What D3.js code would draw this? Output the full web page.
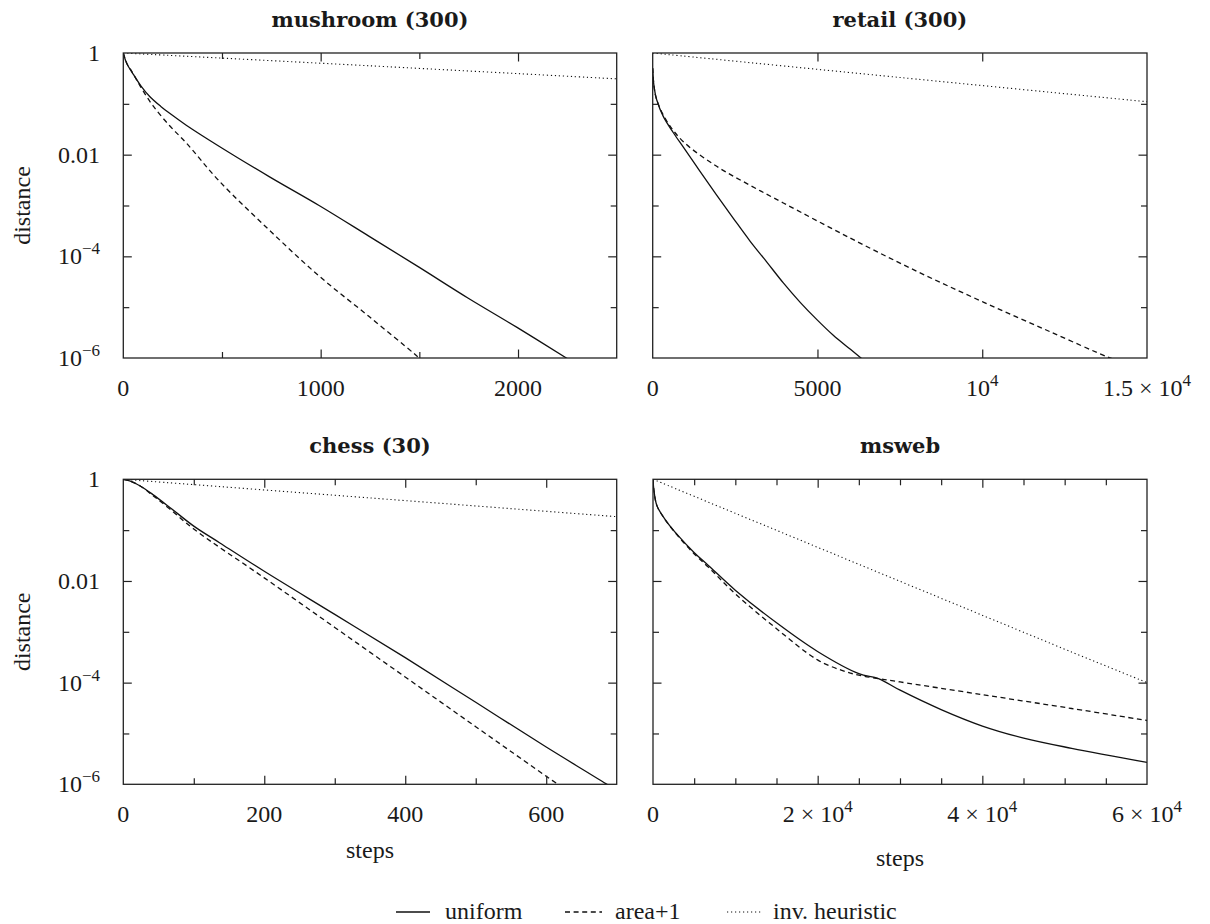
<!DOCTYPE html>
<html>
<head>
<meta charset="utf-8">
<script src="https://cdn.jsdelivr.net/npm/d3@7/dist/d3.min.js"></script>
<style>
  body { margin: 0; background: #fff; }
  svg text { font-family: "Liberation Serif", "Times New Roman", serif; fill: #1a1a1a; }
  .title { font-family: "DejaVu Serif", serif; font-weight: bold; font-size: 21px; }
  .tick-lbl, .axis-lbl, .legend-lbl { font-size: 24px; }
  .frame { fill: none; stroke: #222; stroke-width: 1.3; }
  .ticks line { stroke: #222; stroke-width: 1.2; }
  .ticks path { display: none; }
  .series { fill: none; stroke: #111; }
</style>
</head>
<body>
<svg id="chart" width="1210" height="924"></svg>
<script>
// series: [steps, distance]
const seriesNames = ['uniform', 'area+1', 'inv. heuristic'];

const mushroomUniform = [[0,1],[17,0.63],[51,0.38],[90,0.224],[135,0.138],[190,0.089],[235,0.065],[319,0.038],[487,0.0145],
  [739,0.0037],[992,0.0010],[1244,2.5e-4],[1496,6.2e-5],[1748,1.5e-5],[1995,4.0e-6],[2245,1e-6],[2320,6.7e-7]];
const mushroomArea = [[0,1],[20,0.6],[42,0.44],[67,0.30],[100,0.18],[151,0.091],[235,0.037],[319,0.017],[487,0.0030],
  [739,3.3e-4],[992,4.1e-5],[1244,6.6e-6],[1479,1.17e-6],[1560,6.2e-7]];
const mushroomInv = [[0,1],[1250,0.56],[2500,0.31]];

const retailUniform = [[0,0.5],[40,0.22],[121,0.12],[324,0.056],[627,0.027],[930,0.014],[1436,0.0047],[1941,0.0016],
  [2447,5.6e-4],[2953,2.0e-4],[3458,7.8e-5],[3964,3.0e-5],[4469,1.26e-5],[4975,5.75e-6],[5480,2.8e-6],
  [6000,1.48e-6],[6320,1e-6],[6500,8e-7]];
const retailArea = [[0,0.5],[40,0.22],[121,0.12],[425,0.046],[930,0.018],[1941,0.0059],[2953,0.0025],[3964,0.00112],
  [5987,2.3e-4],[8009,5.1e-5],[10032,1.26e-5],[12054,3.3e-6],[13773,1.07e-6],[14200,8.5e-7]];
const retailInv = [[0,1],[7500,0.33],[15000,0.11]];

const chessUniform = [[0,1],[9,0.93],[24,0.74],[42,0.50],[66,0.28],[100,0.12],[137,0.056],[200,0.0155],
  [300,0.0022],[400,3.1e-4],[500,4.1e-5],[600,5.4e-6],[685,1.02e-6],[720,4.9e-7]];
const chessArea = [[0,1],[9,0.93],[24,0.74],[42,0.48],[66,0.26],[100,0.105],[200,0.0115],[300,0.00122],
  [400,1.29e-4],[500,1.36e-5],[600,1.44e-6],[614,1.06e-6],[640,6e-7]];
const chessInv = [[0,1],[350,0.43],[700,0.184]];

const mswebUniform = [[0,1],[121,0.59],[485,0.30],[1497,0.16],[3115,0.076],[5016,0.036],[6756,0.020],[9992,0.0066],
  [15008,0.0015],[19984,4.1e-4],[25000,1.5e-4],[27387,1.2e-4],[30016,7.1e-5],[34992,2.95e-5],[40008,1.4e-5],
  [45024,8.1e-6],[50850,5.1e-6],[60000,2.7e-6]];
const mswebArea = [[0,1],[121,0.59],[485,0.30],[1497,0.16],[3115,0.074],[5016,0.034],[6756,0.0185],[9992,0.0056],
  [15008,0.00115],[19984,2.8e-4],[22937,1.74e-4],[25000,1.4e-4],[27387,1.2e-4],[30016,1.03e-4],[40008,5.8e-5],
  [50850,3.1e-5],[60000,1.8e-5]];
const mswebInv = [[0,1],[50850,4.0e-4],[60000,1.0e-4]];

// tick values and labels ([base, superscript])
const yMajor = [1, 0.01, 1e-4, 1e-6];
const yMinor = [0.1, 1e-3, 1e-5];
const yLabels = [['1',''],['0.01',''],['10','\u22124'],['10','\u22126']];

const mushroomTicks = [0, 1000, 2000], mushroomMinor = [500, 1500];
const mushroomLabels = [['0',''],['1000',''],['2000','']];
const retailTicks = [0, 5000, 10000, 15000], retailMinor = [];
const retailLabels = [['0',''],['5000',''],['10','4'],['1.5 \u00d7 10','4']];
const chessTicks = [0, 200, 400, 600], chessMinor = [100, 300, 500];
const chessLabels = [['0',''],['200',''],['400',''],['600','']];
const mswebTicks = [0, 20000, 40000, 60000];
const mswebMinor = [5000, 10000, 15000, 25000, 30000, 35000, 45000, 50000, 55000];
const mswebLabels = [['0',''],['2 \u00d7 10','4'],['4 \u00d7 10','4'],['6 \u00d7 10','4']];

const panels = [
  { title: 'mushroom (300)', xMax: 2500, ticks: mushroomTicks, minor: mushroomMinor, labels: mushroomLabels,
    series: [mushroomUniform, mushroomArea, mushroomInv], left: 123.3, right: 616.7, top: 53, yLabel: true, xLabelY: null },
  { title: 'retail (300)', xMax: 15000, ticks: retailTicks, minor: retailMinor, labels: retailLabels,
    series: [retailUniform, retailArea, retailInv], left: 652.7, right: 1147, top: 53, yLabel: false, xLabelY: null },
  { title: 'chess (30)', xMax: 700, ticks: chessTicks, minor: chessMinor, labels: chessLabels,
    series: [chessUniform, chessArea, chessInv], left: 123.3, right: 616.7, top: 479.3, yLabel: true, xLabelY: 858 },
  { title: 'msweb', xMax: 60000, ticks: mswebTicks, minor: mswebMinor, labels: mswebLabels,
    series: [mswebUniform, mswebArea, mswebInv], left: 653, right: 1147, top: 479.3, yLabel: false, xLabelY: 866 }
];

const plotH = 305;
const majorLen = 8.5, minorLen = 6;
const dashes = [null, '5,3.6', '1.2,2.8'];
const widths = [1.3, 1.3, 1.1];

const svg = d3.select('#chart');

function addLabel(sel, parts, supDy) {
  sel.append('tspan').text(parts[0]);
  if (parts[1]) {
    sel.append('tspan').attr('dy', supDy).style('font-size', '17px').text(parts[1]);
  }
}

panels.forEach((p, pi) => {
  const x = d3.scaleLinear().domain([0, p.xMax]).range([p.left, p.right]);
  const y = d3.scaleLog().domain([1e-6, 1]).range([p.top + plotH, p.top]);
  const g = svg.append('g');

  const clipId = `clip-${pi}`;
  g.append('clipPath').attr('id', clipId)
    .append('rect').attr('x', p.left).attr('y', p.top)
    .attr('width', p.right - p.left).attr('height', plotH);

  // curves
  const line = d3.line().x(d => x(d[0])).y(d => y(d[1])).curve(d3.curveCatmullRom.alpha(0.5));
  p.series.forEach((s, si) => {
    g.append('path').attr('class', 'series')
      .attr('clip-path', `url(#${clipId})`)
      .attr('d', line(s))
      .attr('stroke-width', widths[si])
      .attr('stroke-dasharray', dashes[si]);
  });

  // ticks, inward on all four sides
  const xMaj = p.ticks.filter(v => v > 0 && v < p.xMax);
  const tickSets = [
    [d3.axisBottom(x), xMaj, majorLen, `translate(0,${p.top + plotH})`],
    [d3.axisBottom(x), p.minor, minorLen, `translate(0,${p.top + plotH})`],
    [d3.axisTop(x), xMaj, majorLen, `translate(0,${p.top})`],
    [d3.axisTop(x), p.minor, minorLen, `translate(0,${p.top})`],
    [d3.axisLeft(y), yMajor.slice(1, 3), majorLen, `translate(${p.left},0)`],
    [d3.axisLeft(y), yMinor, minorLen, `translate(${p.left},0)`],
    [d3.axisRight(y), yMajor.slice(1, 3), majorLen, `translate(${p.right},0)`],
    [d3.axisRight(y), yMinor, minorLen, `translate(${p.right},0)`]
  ];
  tickSets.forEach(([axis, vals, len, tr]) => {
    g.append('g').attr('class', 'ticks').attr('transform', tr)
      .call(axis.tickValues(vals).tickSize(-len).tickFormat(''));
  });

  g.append('rect').attr('class', 'frame')
    .attr('x', p.left).attr('y', p.top)
    .attr('width', p.right - p.left).attr('height', plotH);

  // x tick labels
  p.ticks.forEach((v, i) => {
    const t = g.append('text').attr('class', 'tick-lbl')
      .attr('x', x(v)).attr('y', p.top + plotH + 38)
      .attr('text-anchor', 'middle');
    addLabel(t, p.labels[i], -10);
  });

  // y tick labels
  if (p.yLabel) {
    yMajor.forEach((v, i) => {
      const t = g.append('text').attr('class', 'tick-lbl')
        .attr('x', 100).attr('y', y(v) + 8)
        .attr('text-anchor', 'end');
      addLabel(t, yLabels[i], -10);
    });
    g.append('text').attr('class', 'axis-lbl')
      .attr('transform', `translate(30,${p.top + plotH / 2}) rotate(-90)`)
      .attr('text-anchor', 'middle')
      .text('distance');
  }

  g.append('text').attr('class', 'title')
    .attr('x', (p.left + p.right) / 2).attr('y', p.top - 26)
    .attr('text-anchor', 'middle')
    .text(p.title);

  if (p.xLabelY) {
    g.append('text').attr('class', 'axis-lbl')
      .attr('x', (p.left + p.right) / 2).attr('y', p.xLabelY)
      .attr('text-anchor', 'middle')
      .text('steps');
  }
});

// legend
const legendItems = [
  { x1: 396, x2: 430, tx: 445 },
  { x1: 565, x2: 602, tx: 615 },
  { x1: 727, x2: 763, tx: 773 }
];
const lg = svg.append('g');
legendItems.forEach((it, i) => {
  lg.append('line').attr('class', 'series')
    .attr('x1', it.x1).attr('x2', it.x2).attr('y1', 912).attr('y2', 912)
    .attr('stroke-width', widths[i])
    .attr('stroke-dasharray', dashes[i]);
  lg.append('text').attr('class', 'legend-lbl')
    .attr('x', it.tx).attr('y', 918.5)
    .text(seriesNames[i]);
});
</script>
</body>
</html>
